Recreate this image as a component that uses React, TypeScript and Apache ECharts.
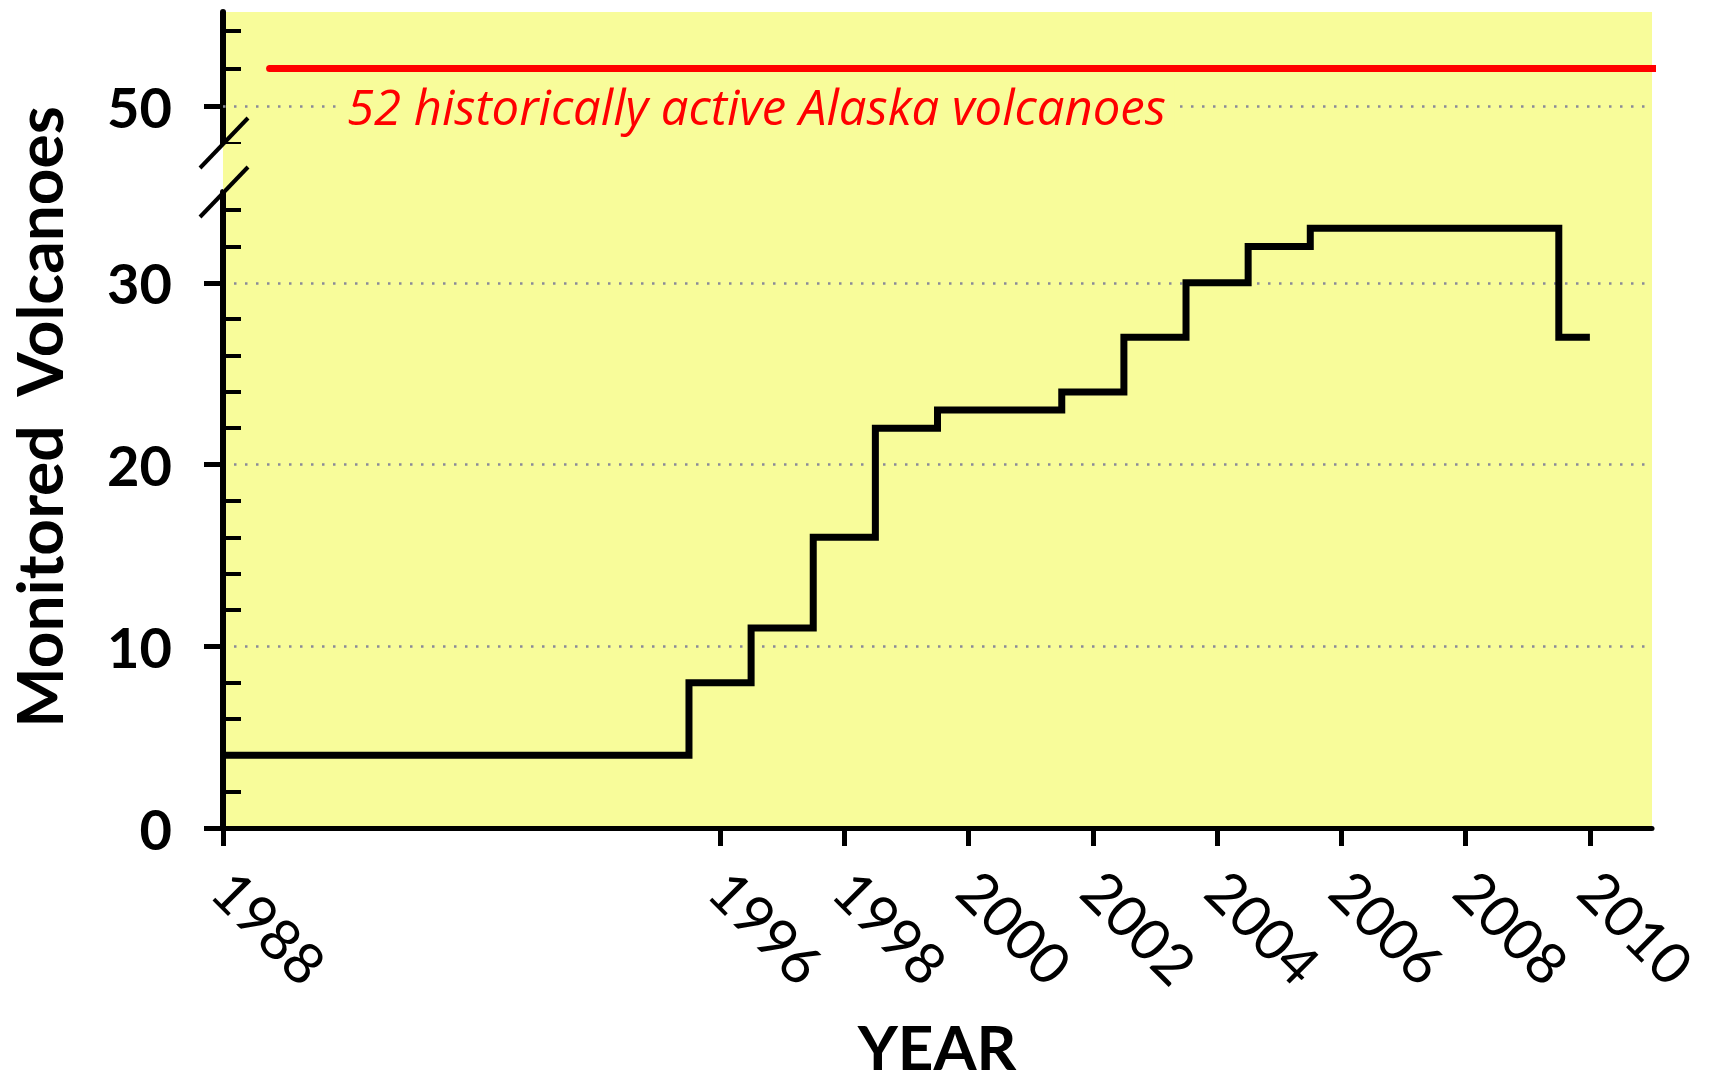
import React, { useEffect, useRef } from 'react';
import * as echarts from 'echarts';

// ---- data ----
const stepYears = [1988, 1995.5, 1996.5, 1997.5, 1998.5, 1999.5, 2001.5, 2002.5, 2003.5, 2004.5, 2005.5, 2009.5, 2010];
const monitoredCounts = [4, 8, 11, 16, 22, 23, 24, 27, 30, 32, 33, 27, 27];
const historicYears = [1988.75, 2011.13];
const historicCount = 52;
const historicLabel = '52 historically active Alaska volcanoes';
const xTickYears = [1988, 1996, 1998, 2000, 2002, 2004, 2006, 2008, 2010];
const lowerMajorTicks = [0, 10, 20, 30];
const lowerMinorTicks = [2, 4, 6, 8, 12, 14, 16, 18, 22, 24, 26, 28, 32, 34];
const upperMajorTicks = [50];
const upperMinorTicks = [48, 52, 54];
const yTitle = 'Monitored  Volcanoes';
const xTitle = 'YEAR';

const FONT = 'Lato';
const YELLOW = '#f8fc9a';
const DOT = '#8a8a98';

export default function App() {
  const ref = useRef<HTMLDivElement>(null);
  useEffect(() => {
    const chart = echarts.init(ref.current!, null, { renderer: 'svg' });
    const gridLeft = 223;
    const gridRightEdge = 1652;
    const gridRight = 1709 - gridRightEdge;
    const upperTop = 12, upperBottom = 144, lowerTop = 192, lowerBottom = 828;
    const dotted = { color: DOT, width: 2.5, type: [2.5, 8.5] };

    const majorY = (gridIndex: number, min: number, max: number, ticks: number[], split: boolean) => ({
      gridIndex, type: 'value', position: 'left', min, max, interval: 10,
      axisLine: { show: true, onZero: false, lineStyle: { color: '#000', width: 6 } },
      axisTick: { show: true, inside: false, length: 19, customValues: ticks, lineStyle: { color: '#000', width: 5 } },
      axisLabel: { show: true, customValues: ticks, margin: 51, fontFamily: FONT, fontWeight: 'bold', fontSize: 56, color: '#000' },
      splitLine: { show: split, showMinLine: false, showMaxLine: true, lineStyle: dotted },
    });
    const minorY = (gridIndex: number, min: number, max: number, ticks: number[]) => ({
      gridIndex, type: 'value', position: 'left', min, max, interval: 10,
      axisLine: { show: false },
      axisTick: { show: true, inside: true, length: 18, customValues: ticks, lineStyle: { color: '#000', width: 4 } },
      axisLabel: { show: false },
      splitLine: { show: false },
    });

    const option = {
      animation: false,
      grid: [
        { left: gridLeft, right: gridRight, top: upperTop, height: upperBottom - upperTop, show: true, backgroundColor: YELLOW, borderWidth: 0, containLabel: false, outerBoundsMode: 'none' },
        { left: gridLeft, right: gridRight, top: lowerTop, height: lowerBottom - lowerTop, show: true, backgroundColor: YELLOW, borderWidth: 0, containLabel: false, outerBoundsMode: 'none' },
      ],
      xAxis: [
        { gridIndex: 0, type: 'value', min: 1988, max: 2011, show: false },
        {
          gridIndex: 1, type: 'value', min: 1988, max: 2011, position: 'bottom',
          axisLine: { show: true, onZero: false, lineStyle: { color: '#000', width: 5 } },
          axisTick: { show: true, inside: false, length: 18, customValues: xTickYears, lineStyle: { color: '#000', width: 5 } },
          axisLabel: {
            show: true, customValues: xTickYears, rotate: -45, margin: 52,
            formatter: (v: number) => String(v),
            fontFamily: FONT, fontSize: 57, color: '#000',
          },
          splitLine: { show: false },
        },
      ],
      yAxis: [
        majorY(0, 48, 55, upperMajorTicks, false),
        minorY(0, 48, 55, upperMinorTicks),
        majorY(1, 0, 35, lowerMajorTicks, true),
        minorY(1, 0, 35, lowerMinorTicks),
      ],
      series: [
        {
          type: 'line', xAxisIndex: 0, yAxisIndex: 0, clip: false, silent: true,
          data: historicYears.map((y) => [y, historicCount]),
          symbol: 'none',
          lineStyle: { color: '#ff0000', width: 7, cap: 'round' },
          markLine: {
            silent: true, symbol: ['none', 'none'], label: { show: false },
            lineStyle: dotted,
            data: [{ yAxis: 50 }],
          },
        },
        {
          type: 'line', xAxisIndex: 1, yAxisIndex: 2, step: 'end', silent: true,
          data: stepYears.map((y, i) => [y, monitoredCounts[i]]),
          symbol: 'none',
          lineStyle: { color: '#000', width: 7, join: 'miter', cap: 'butt' },
        },
      ],
      graphic: [
        { type: 'rect', z: 1, shape: { x: gridLeft, y: upperBottom, width: gridRightEdge - gridLeft, height: lowerTop - upperBottom }, style: { fill: YELLOW } },
        { type: 'line', z: 100, shape: { x1: 200, y1: 168, x2: 248, y2: 118 }, style: { stroke: '#000', lineWidth: 4 } },
        { type: 'line', z: 100, shape: { x1: 200, y1: 217, x2: 248, y2: 167 }, style: { stroke: '#000', lineWidth: 4 } },
        {
          type: 'text', z: 100, x: 338, y: 106,
          style: {
            text: historicLabel, fill: '#ff0000', font: `italic 49px "Open Sans"`,
            textAlign: 'left', textVerticalAlign: 'middle', backgroundColor: YELLOW, padding: [2, 9],
          },
        },
        {
          type: 'text', z: 100, x: 38, y: 417, rotation: Math.PI / 2,
          style: { text: yTitle, fill: '#000', font: `bold 64px ${FONT}`, textAlign: 'center', textVerticalAlign: 'middle' },
        },
        {
          type: 'text', z: 100, x: 937, y: 1046,
          style: { text: xTitle, fill: '#000', font: `bold 62px ${FONT}`, textAlign: 'center', textVerticalAlign: 'middle' },
        },
      ],
    };
    chart.setOption(option as any);
    return () => chart.dispose();
  }, []);
  return <div ref={ref} style={{ position: 'fixed', left: 0, top: 0, width: 1709, height: 1084, background: '#fff' }} />;
}
